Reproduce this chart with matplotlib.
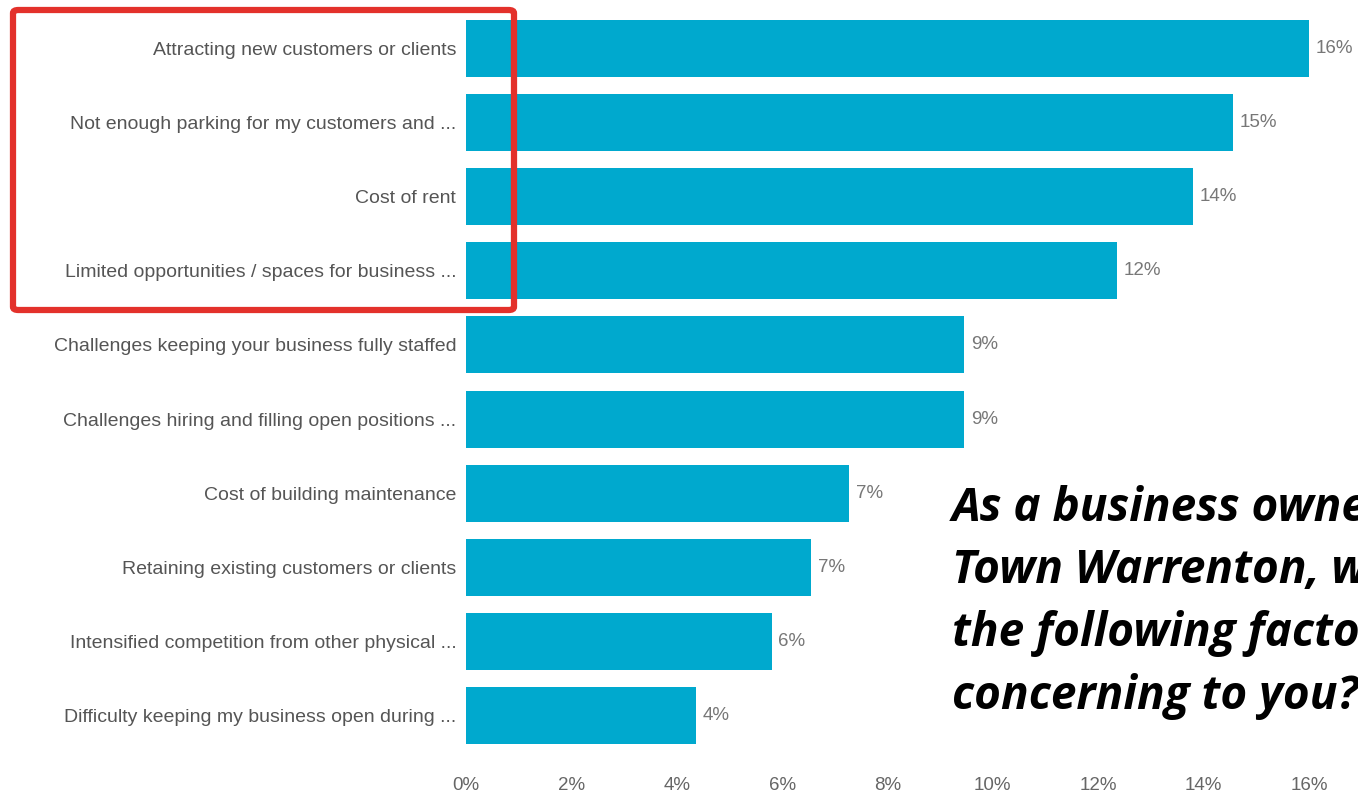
import matplotlib
matplotlib.use("Agg")
import matplotlib.pyplot as plt
from matplotlib.patches import FancyBboxPatch

# survey answers, top to bottom
factors = [
    "Attracting new customers or clients",
    "Not enough parking for my customers and ...",
    "Cost of rent",
    "Limited opportunities / spaces for business ...",
    "Challenges keeping your business fully staffed",
    "Challenges hiring and filling open positions ...",
    "Cost of building maintenance",
    "Retaining existing customers or clients",
    "Intensified competition from other physical ...",
    "Difficulty keeping my business open during ...",
]
share_pct = [16.0, 14.55, 13.8, 12.35, 9.45, 9.45, 7.27, 6.55, 5.8, 4.36]
xticks = [0, 2, 4, 6, 8, 10, 12, 14, 16]

question_lines = [
    "As a business owner in Old",
    "Town Warrenton, which of",
    "the following factors are most",
    "concerning to you?",
]

BAR = "#00A9CE"
GREY = "#555555"

W, H = 1358, 791
fig = plt.figure(figsize=(W / 100, H / 100), dpi=100)
fig.patch.set_facecolor("white")

# axes placed so 0% sits at x=466 px and 16% at x=1309 px
left_px, unit_px = 466, (1309 - 466) / 16
xmax = 16.9
ax = fig.add_axes([left_px / W, 1 - 753 / H, xmax * unit_px / W, (753 - 11) / H])

y = list(range(len(factors)))
ax.barh(y, share_pct, height=0.77, color=BAR, edgecolor="none")
for yi, v in zip(y, share_pct):
    ax.text(v + 0.13, yi, f"{v:.0f}%", va="center", ha="left",
            fontsize=13.5, color="#777777", family="Liberation Sans")

ax.set_xlim(0, xmax)
ax.set_ylim(len(factors) - 0.5, -0.5)
ax.set_yticks(y)
ax.set_yticklabels(factors, fontsize=14, color=GREY, family="Liberation Sans")
ax.set_xticks(xticks)
ax.set_xticklabels([f"{t}%" for t in xticks], fontsize=13.5, color="#666666",
                   family="Liberation Sans")
ax.tick_params(axis="y", length=0, pad=7)
ax.tick_params(axis="x", length=0, pad=17)
for s in ax.spines.values():
    s.set_visible(False)

# highlight box around the top four answers
box = FancyBboxPatch((13 / W, 1 - 310 / H), (514 - 13) / W, (310 - 10) / H,
                     boxstyle="round,pad=0,rounding_size=0.004",
                     transform=fig.transFigure, fill=False,
                     edgecolor="#E3312B", linewidth=4.5, zorder=5)
fig.patches.append(box)

# question text, one baseline every 62 px
for i, line in enumerate(question_lines):
    fig.text(952 / W, 1 - (521 + 62.5 * i) / H, line, ha="left", va="baseline",
             fontsize=33, fontweight="bold", fontstyle="italic",
             family="Open Sans", color="black")

fig.savefig("out.png", dpi=100)
